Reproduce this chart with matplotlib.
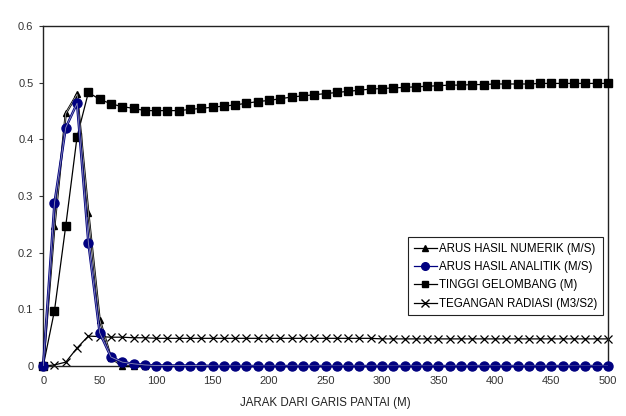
import matplotlib.pyplot as plt
from matplotlib.lines import Line2D

# -----------------------------
# data
# -----------------------------
jarak = list(range(0, 510, 10))

numerik = [0.0, 0.248, 0.446, 0.48, 0.27, 0.082, 0.015, 0.0] + [0.0] * 43

analitik = [0.0, 0.288, 0.421, 0.464, 0.218, 0.059, 0.016, 0.007, 0.004, 0.002] + [0.001] * 5 + [0.0] * 36

tinggi = [0.0, 0.098, 0.248, 0.405, 0.483, 0.471, 0.463, 0.458, 0.455, 0.451,
          0.451, 0.451, 0.451, 0.453, 0.455, 0.457, 0.459, 0.461, 0.464, 0.467,
          0.469, 0.472, 0.475, 0.477, 0.479, 0.481, 0.483, 0.485, 0.487, 0.489,
          0.490, 0.491, 0.492, 0.493, 0.494, 0.495, 0.496, 0.496, 0.497, 0.497,
          0.498, 0.498, 0.498, 0.498, 0.499, 0.499, 0.499, 0.499, 0.499, 0.499, 0.499]

radiasi = [0.0, 0.002, 0.007, 0.032, 0.053, 0.052, 0.051, 0.051, 0.050, 0.050] + [0.049] * 20 + [0.048] * 21

labels = ["ARUS HASIL NUMERIK (M/S)", "ARUS HASIL ANALITIK (M/S)",
          "TINGGI GELOMBANG (M)", "TEGANGAN RADIASI (M3/S2)"]

plt.rcParams['font.family'] = ['Liberation Sans', 'DejaVu Sans']

fig = plt.figure(figsize=(6.26, 4.16), dpi=100)
ax = fig.add_axes([0.069, 0.120, 0.902, 0.817])

navy = "#000080"
ax.plot(jarak, radiasi, color="black", lw=0.9, marker="x", ms=5.5, mew=0.9, zorder=2, clip_on=False)
ax.plot(jarak, tinggi, color="black", lw=0.9, marker="s", ms=5.7, zorder=3, clip_on=False)
ax.plot(jarak, numerik, color="black", lw=1.6, marker="^", ms=5, zorder=4, clip_on=False)
ax.plot(jarak, numerik, color="#bbbbbb", lw=0.5, zorder=4)
ax.plot(jarak, analitik, color=navy, lw=1.8, marker="o", ms=6.5, zorder=5, clip_on=False)
ax.plot(jarak, analitik, color="#9090b8", lw=0.6, zorder=5)

ax.set_xlim(0, 500)
ax.set_ylim(0, 0.6)
ax.set_xticks(range(0, 550, 50))
ax.set_yticks([0, 0.1, 0.2, 0.3, 0.4, 0.5, 0.6])
ax.set_yticklabels(["0", "0.1", "0.2", "0.3", "0.4", "0.5", "0.6"])
ax.tick_params(axis="x", length=0, pad=7, labelsize=8, colors="#333333")
ax.tick_params(axis="y", length=3, pad=4, labelsize=8, colors="#333333")
for s in ax.spines.values():
    s.set_linewidth(1.0)
    s.set_color("#222222")
ax.set_xlabel("JARAK DARI GARIS PANTAI (M)", fontsize=8.3, color="#222222", labelpad=8)

handles = [
    Line2D([], [], color="black", lw=0.9, marker="^", ms=4.5),
    Line2D([], [], color=navy, lw=0.9, marker="o", ms=5.5),
    Line2D([], [], color="black", lw=0.9, marker="s", ms=4.5),
    Line2D([], [], color="black", lw=0.9, marker="x", ms=6),
]
leg = ax.legend(handles, labels, loc="lower right", bbox_to_anchor=(1.002, 0.132),
                fontsize=8.3, frameon=True, fancybox=False, framealpha=1,
                edgecolor="#222222", handlelength=2.0, handletextpad=0.2,
                labelspacing=0.55, borderpad=0.5)
leg.get_frame().set_linewidth(0.8)

fig.savefig("out.png", dpi=100)
